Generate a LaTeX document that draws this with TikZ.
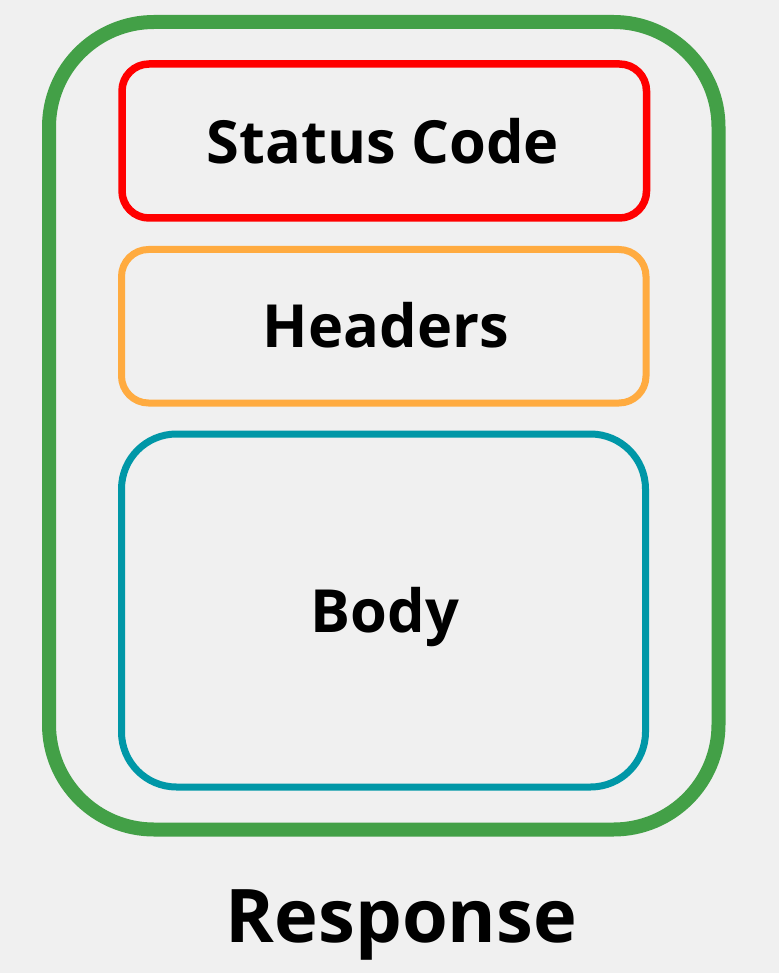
\documentclass[tikz,border=0pt]{standalone}
\usepackage{fontspec}
\setmainfont{Open Sans}
\definecolor{bgc}{HTML}{F0F0F0}
\definecolor{greenc}{HTML}{43A047}
\definecolor{redc}{HTML}{FF0000}
\definecolor{orangec}{HTML}{FFAB40}
\definecolor{tealc}{HTML}{0097A7}
\tikzset{
  box/.style={draw, rectangle, inner sep=0pt, outer sep=0pt},
  lbl/.style={anchor=base, inner sep=0pt, font=\bfseries\fontsize{59.5}{59.5}\selectfont},
}
\begin{document}
\begin{tikzpicture}[x=1pt,y=-1pt]
\fill[bgc] (0,0) rectangle (779,973);
\useasboundingbox (0,0) rectangle (779,973);
\node[box, draw=greenc, line width=14pt, rounded corners=105pt, minimum width=669.5pt, minimum height=807.5pt] (resp) at (383.75,425.75) {};
\node[box, draw=redc, line width=7.5pt, rounded corners=27pt, minimum width=524.5pt, minimum height=154pt] (status) at (384.25,141) {};
\node[box, draw=orangec, line width=7pt, rounded corners=27pt, minimum width=524.5pt, minimum height=153.5pt] (headers) at (383.75,326.25) {};
\node[box, draw=tealc, line width=7pt, rounded corners=55pt, minimum width=524pt, minimum height=353pt] (body) at (383.5,610.5) {};
\node[lbl] (tstatus) at (383,164) {Status Code};
\node[lbl] (theaders) at (386,347) {Headers};
\node[lbl] (tbody) at (385,632) {Body};
\node[lbl, font=\bfseries\fontsize{74}{74}\selectfont] (tresp) at (401.5,942) {Response};
\end{tikzpicture}
\end{document}
